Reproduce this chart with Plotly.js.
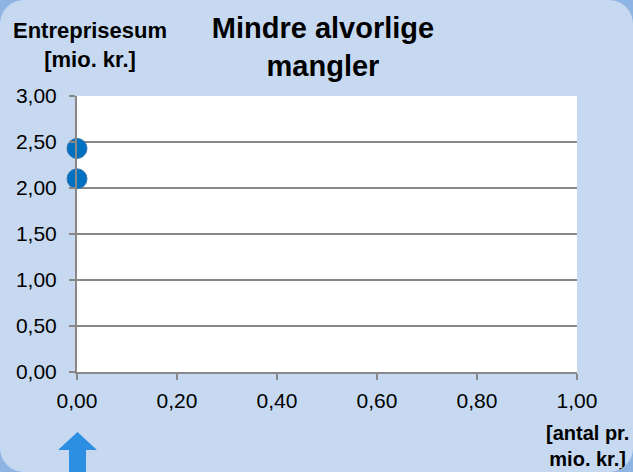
<!DOCTYPE html>
<html>
<head>
<meta charset="utf-8">
<script src="https://cdn.plot.ly/plotly-3.0.1.min.js"></script>
<style>
  html, body { margin: 0; padding: 0; background: #8eb4e3; }
  #chart { width: 633px; height: 472px; border-radius: 24px; overflow: hidden; }
</style>
</head>
<body>
<div id="chart"></div>
<script>
// Data
const xValues = [0, 0];            // antal pr. mio. kr.
const yValues = [2.43, 2.10];      // Entreprisesum [mio. kr.]
const xTicks = [0, 0.2, 0.4, 0.6, 0.8, 1.0];
const yTicks = [0, 0.5, 1.0, 1.5, 2.0, 2.5, 3.0];
const titleText = 'Mindre alvorlige<br>mangler';
const yTitleText = 'Entreprisesum<br>[mio. kr.]';
const xTitleText = '[antal pr.<br>mio. kr.]';

const W = 633, H = 472;
const m = {l: 77, r: 56, t: 96, b: 100};
const pw = W - m.l - m.r, ph = H - m.t - m.b;
const px = v => (v - m.l) / pw;          // pixel -> paper x
const py = v => (H - m.b - v) / ph;      // pixel -> paper y

const trace = {
  type: 'scatter',
  mode: 'markers',
  x: xValues,
  y: yValues,
  cliponaxis: false,
  marker: {size: 20, color: '#0070c0', line: {color: '#3a74b0', width: 1}},
  hoverinfo: 'x+y'
};

const gray = '#888888';
const fam = 'Liberation Sans, Arial, sans-serif';
const tickFont = {family: fam, size: 21, color: '#000'};

// arrow decoration (up arrow, bottom-left)
const arrowPath = [
  ['M', px(77.5), py(432)],
  ['L', px(97), py(450)],
  ['L', px(86), py(450)],
  ['L', px(86), py(480)],
  ['L', px(69), py(480)],
  ['L', px(69), py(450)],
  ['L', px(58), py(450)],
  ['Z']
].map(s => s.length === 1 ? s[0] : s[0] + s[1].toFixed(4) + ',' + s[2].toFixed(4)).join(' ');

const layout = {
  width: W, height: H,
  margin: m,
  paper_bgcolor: '#c6d9f1',
  plot_bgcolor: '#ffffff',
  separators: ',.',
  showlegend: false,
  title: {
    text: titleText,
    font: {family: fam, size: 29, color: '#000', weight: 'bold'},
    x: px(323), xanchor: 'center', xref: 'paper',
    y: 1 - 38 / H, yanchor: 'middle', yref: 'container'
  },
  xaxis: {
    range: [0, 1],
    tickvals: xTicks,
    tickformat: '.2f',
    showgrid: false,
    zeroline: false,
    showline: true, linecolor: gray, linewidth: 2,
    ticks: 'outside', ticklen: 6, tickcolor: gray, tickwidth: 2,
    ticklabelstandoff: 3,
    tickfont: tickFont,
    fixedrange: true
  },
  yaxis: {
    range: [0, 3],
    tickvals: yTicks,
    tickformat: '.2f',
    showgrid: true, gridcolor: gray, gridwidth: 1.5,
    zeroline: false,
    showline: true, linecolor: gray, linewidth: 2,
    ticks: 'outside', ticklen: 6, tickcolor: gray, tickwidth: 2,
    ticklabelstandoff: 8,
    tickfont: tickFont,
    fixedrange: true
  },
  annotations: [
    {text: yTitleText, xref: 'paper', yref: 'paper', x: px(90), y: py(45),
     xanchor: 'center', yanchor: 'middle', showarrow: false,
     font: {family: fam, size: 22, color: '#000', weight: 'bold'}, align: 'center'},
    {text: xTitleText, xref: 'paper', yref: 'paper', x: px(587), y: py(446),
     xanchor: 'center', yanchor: 'middle', showarrow: false,
     font: {family: fam, size: 20, color: '#000', weight: 'bold'}, align: 'center'}
  ],
  shapes: [
    {type: 'path', xref: 'paper', yref: 'paper', path: arrowPath,
     fillcolor: '#2d8fe2', line: {width: 0}, layer: 'above'}
  ]
};

Plotly.newPlot('chart', [trace], layout, {displayModeBar: false});
</script>
</body>
</html>
